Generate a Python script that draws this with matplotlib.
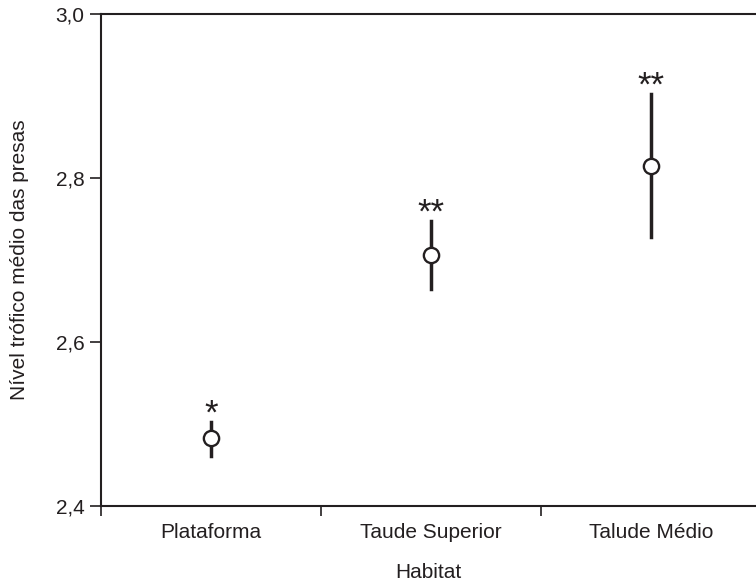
import matplotlib.pyplot as plt

plt.rcParams['font.family'] = ['Liberation Sans', 'DejaVu Sans']

habitats = ["Plataforma", "Taude Superior", "Talude Médio"]
means = [2.483, 2.706, 2.815]
lower = [2.461, 2.665, 2.728]
upper = [2.502, 2.747, 2.902]
signif = ["*", "**", "**"]
yticks = [2.4, 2.6, 2.8, 3.0]
ytick_labels = ["2,4", "2,6", "2,8", "3,0"]

ink = '#231f20'
fs = 15

fig = plt.figure(figsize=(7.56, 5.85), dpi=100)
ax = fig.add_axes([101/756, 1 - 506/585, 655/756, 492/585])

x = list(range(len(habitats)))
for i in x:
    ax.plot([i, i], [lower[i], upper[i]], color=ink, lw=2.5, zorder=2)
    ax.annotate(signif[i], (i, upper[i]), xytext=(0, -5.6), textcoords='offset points',
                ha='center', va='bottom', fontsize=25, color=ink)
ax.plot(x, means, 'o', ms=11, mfc='white', mec=ink, mew=1.7, ls='none', zorder=3)

ax.set_xlim(-0.5, 2.477)
ax.set_ylim(2.4, 3.0)
ax.set_yticks(yticks)
ax.set_yticklabels(ytick_labels)
ax.set_xticks([-0.5, 0.5, 1.5])
ax.set_xticklabels([])
ax.set_xticks(x, minor=True)
ax.set_xticklabels(habitats, minor=True)
ax.tick_params(axis='x', which='minor', length=0, pad=12, labelsize=fs, colors=ink)
ax.tick_params(axis='x', which='major', length=7, width=1.2, color=ink)
ax.tick_params(axis='y', length=8, width=1.2, pad=4, labelsize=fs, colors=ink)

ax.spines['right'].set_visible(False)
for s in ['left', 'top', 'bottom']:
    ax.spines[s].set_linewidth(1.5)
    ax.spines[s].set_color(ink)

ax.set_xlabel("Habitat", fontsize=fs, color=ink, labelpad=15)
ax.set_ylabel("Nível trófico médio das presas", fontsize=fs, color=ink, labelpad=19)

fig.savefig("out.png", dpi=100)
